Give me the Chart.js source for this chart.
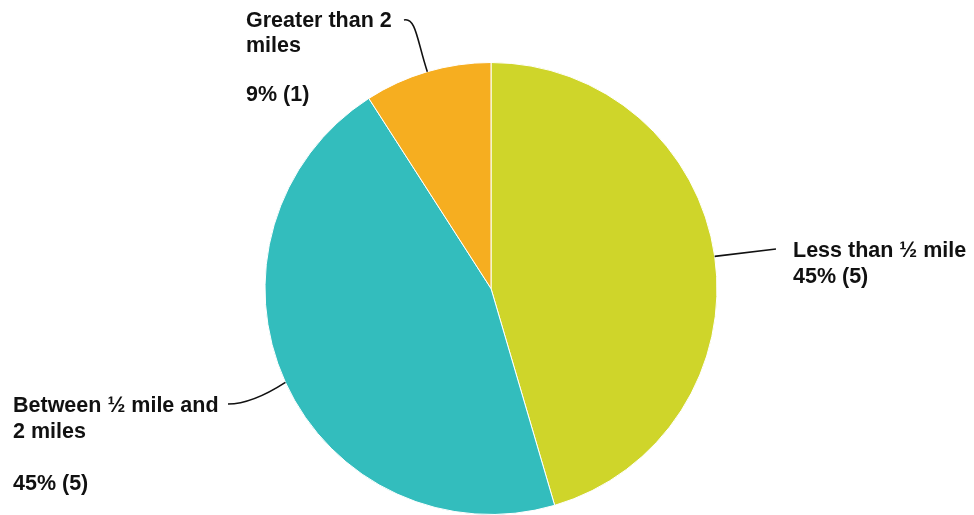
<!DOCTYPE html>
<html>
<head>
<meta charset="utf-8">
<script src="https://cdn.jsdelivr.net/npm/chart.js@4"></script>
<style>
html,body{margin:0;padding:0;background:#fff;}
#wrap{position:relative;width:974px;height:515px;}
</style>
</head>
<body>
<div id="wrap"><canvas id="c" width="974" height="515"></canvas></div>
<script>
const categories = ["Less than ½ mile", "Between ½ mile and 2 miles", "Greater than 2 miles"];
const counts = [5, 5, 1];
const percentLabels = ["45% (5)", "45% (5)", "9% (1)"];
const labelLines = [
  ["Less than ½ mile", "45% (5)"],
  ["Between ½ mile and", "2 miles", "", "45% (5)"],
  ["Greater than 2", "miles", "", "9% (1)"]
];
const colors = ["#CFD52A", "#33BDBD", "#F6AE20"];

const labelLayout = [
  {x: 793, y: 257, lh: 26, line: [[776, 249], null, "straight"]},
  {x: 13, y: 412, lh: 26, line: [[228, 404], [252, 404], "quad"]},
  {x: 246, y: 27, lh: 24.5, line: [[404, 20], [416, 17], "cubic"]}
];

const labelPlugin = {
  id: 'pieLabels',
  afterDatasetsDraw(chart) {
    const ctx = chart.ctx;
    const meta = chart.getDatasetMeta(0);
    ctx.save();
    ctx.font = 'bold 21.5px "Liberation Sans", Arial, sans-serif';
    ctx.fillStyle = '#111';
    ctx.textBaseline = 'alphabetic';
    ctx.strokeStyle = '#111';
    ctx.lineWidth = 1.6;
    meta.data.forEach((arc, i) => {
      const mid = (arc.startAngle + arc.endAngle) / 2;
      const ax = arc.x + Math.cos(mid) * arc.outerRadius;
      const ay = arc.y + Math.sin(mid) * arc.outerRadius;
      const L = labelLayout[i];
      const [p0, c1, kind] = L.line;
      ctx.beginPath();
      ctx.moveTo(p0[0], p0[1]);
      if (kind === 'straight') ctx.lineTo(ax, ay);
      else if (kind === 'quad') ctx.quadraticCurveTo(c1[0], c1[1], ax, ay);
      else ctx.bezierCurveTo(c1[0], c1[1], ax - 10, ay - 30, ax, ay);
      ctx.stroke();
      labelLines[i].forEach((t, k) => {
        if (t) ctx.fillText(t, L.x, L.y + k * L.lh);
      });
    });
    ctx.restore();
  }
};

new Chart(document.getElementById('c'), {
  type: 'pie',
  data: {
    labels: categories,
    datasets: [{
      data: counts,
      backgroundColor: colors,
      borderColor: '#ffffff',
      borderWidth: 1
    }]
  },
  options: {
    responsive: false,
    animation: false,
    layout: {padding: {top: 62, bottom: 0, left: 264, right: 256}},
    plugins: {legend: {display: false}, tooltip: {enabled: false}}
  },
  plugins: [labelPlugin]
});
</script>
</body>
</html>
